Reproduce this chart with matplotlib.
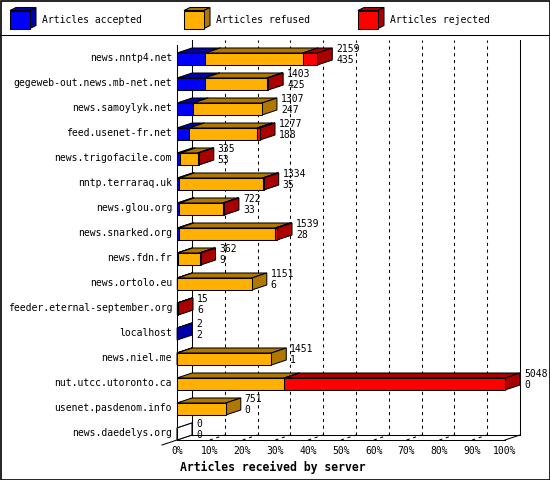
import matplotlib
matplotlib.use('Agg')
import matplotlib.pyplot as plt
from matplotlib.patches import Polygon, Rectangle

# news servers, top to bottom
servers = ['news.nntp4.net', 'gegeweb-out.news.mb-net.net', 'news.samoylyk.net',
           'feed.usenet-fr.net', 'news.trigofacile.com', 'nntp.terraraq.uk',
           'news.glou.org', 'news.snarked.org', 'news.fdn.fr', 'news.ortolo.eu',
           'feeder.eternal-september.org', 'localhost', 'news.niel.me',
           'nut.utcc.utoronto.ca', 'usenet.pasdenom.info', 'news.daedelys.org']
accepted = [435, 425, 247, 188, 53, 35, 33, 28, 9, 6, 6, 2, 1, 0, 0, 0]
refused = [1504, 958, 1060, 1044, 267, 1284, 674, 1486, 338, 1145, 0, 0, 1450, 1652, 751, 0]
rejected = [220, 20, 0, 45, 15, 15, 15, 25, 15, 0, 9, 0, 0, 3396, 0, 0]
ticks = [0, 10, 20, 30, 40, 50, 60, 70, 80, 90, 100]

series = [('Articles accepted', accepted, '#0000ff', '#0000aa'),
          ('Articles refused', refused, '#ffb000', '#b07800'),
          ('Articles rejected', rejected, '#ff0000', '#aa0000')]

W, H = 550, 480
fig = plt.figure(figsize=(W / 100, H / 100), dpi=100)
lw = 0.75
font = 'DejaVu Sans Mono'

# plot area: 0..100% spans px 177..505, rows span px 40..440
ax = fig.add_axes([177 / W, 40 / H, 328 / W, 400 / H])
ax.set_xlim(0, 100)
ax.set_ylim(15.24, -0.76)
ax.axis('off')

px_x = 100 / 328.0
px_y = 1 / 25.0
dx = 15 * px_x
dy = 5 * px_y
half = 6 * px_y
y_top, y_floor = -0.76, 15.24


def box3d(axis, x0, x1, yc, face, dark, z, ddx, ddy, hh):
    kw = dict(edgecolor='black', linewidth=lw, clip_on=False, zorder=z)
    axis.add_patch(Polygon([(x0, yc - hh), (x1, yc - hh), (x1 + ddx, yc - hh - ddy),
                            (x0 + ddx, yc - hh - ddy)], closed=True, facecolor=dark, **kw))
    axis.add_patch(Polygon([(x1, yc - hh), (x1 + ddx, yc - hh - ddy), (x1 + ddx, yc + hh - ddy),
                            (x1, yc + hh)], closed=True, facecolor=dark, **kw))
    axis.add_patch(Rectangle((x0, yc - hh), x1 - x0, 2 * hh, facecolor=face, **kw))


# walls and floor
line = dict(color='black', linewidth=lw, clip_on=False, zorder=2)
ax.plot([dx, dx], [y_top, y_floor - dy], **line)
ax.plot([100 + dx, 100 + dx], [y_top, y_floor - dy], **line)
ax.plot([0, 0], [y_top + dy, y_floor], **line)
ax.plot([dx, 100 + dx], [y_floor - dy, y_floor - dy], **line)
ax.plot([0, 100], [y_floor, y_floor], **line)
ax.plot([-dx, dx], [y_floor + dy, y_floor - dy], **line)
ax.plot([100, 100 + dx], [y_floor, y_floor - dy], **line)

dash = dict(color='black', linewidth=lw, linestyle=(0, (3, 3.5)), clip_on=False, zorder=1)
for t in ticks[1:-1]:
    ax.plot([t + dx, t + dx], [y_floor - dy, y_top], **dash)
    ax.plot([t, t + dx], [y_floor, y_floor - dy], **dash)

for t in ticks:
    ax.text(t, 15.68, '%d%%' % t, ha='center', va='center', fontsize=7, family=font)
ax.text(0.9, 16.32, 'Articles received by server', ha='left', va='center',
        fontsize=8.3, family=font, fontweight='bold')

scale = max(a + r + j for a, r, j in zip(accepted, refused, rejected))
for i, name in enumerate(servers):
    ax.text(-1.5, i - 0.04, name, ha='right', va='center', fontsize=7, family=font)
    start = 0.0
    total = 0
    drawn = False
    for _, vals, face, dark in series:
        v = vals[i]
        total += v
        if v == 0:
            continue
        end = start + 100.0 * v / scale
        box3d(ax, start, end, i, face, dark, 3 + i, dx, dy, half)
        start = end
        drawn = True
    if not drawn:
        box3d(ax, 0, 0, i, 'white', 'white', 3 + i, dx, dy, half)
    ax.text(start + dx + 4 * px_x, i - 0.4, str(total), ha='left', va='center',
            fontsize=7, family=font, zorder=30)
    ax.text(start + dx + 4 * px_x, i + 0.04, str(accepted[i]), ha='left', va='center',
            fontsize=7, family=font, zorder=30)

# legend strip and frame, in pixel coordinates
lg = fig.add_axes([0, 0, 1, 1], zorder=-1)
lg.set_xlim(0, W)
lg.set_ylim(H, 0)
lg.axis('off')
lg.add_patch(Rectangle((0.5, 0.5), W - 1, H - 1, fill=False, edgecolor='black', linewidth=1.2))
lg.plot([0, W], [35, 35], color='black', linewidth=lw)
for k, (label, _, face, dark) in enumerate(series):
    x0 = 10 + 174 * k
    box3d(lg, x0, x0 + 20, 19.5, face, dark, 2, 6, 3, 9)
    lg.text(x0 + 32, 20, label, ha='left', va='center', fontsize=7, family=font)

fig.savefig('out.png', dpi=100)
